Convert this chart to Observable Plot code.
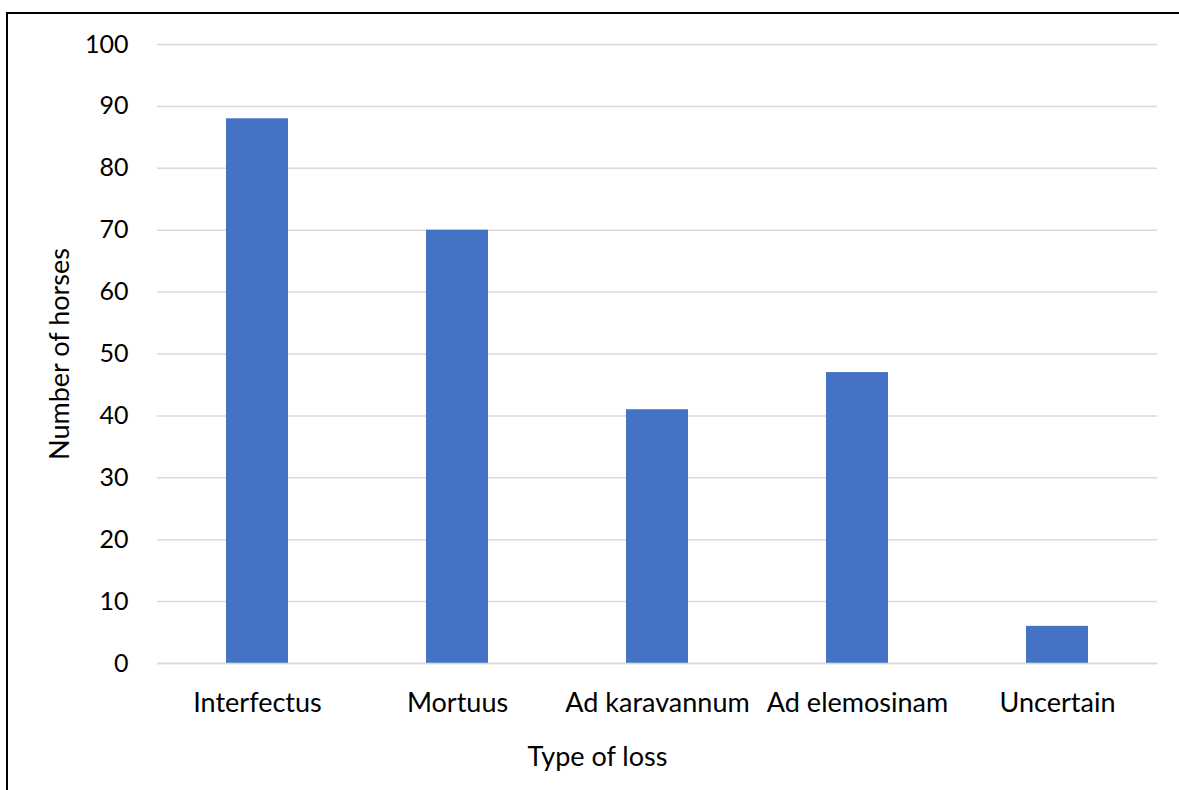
<!DOCTYPE html>
<html>
<head>
<meta charset="utf-8">
<script src="https://cdn.jsdelivr.net/npm/d3@7"></script>
<script src="https://cdn.jsdelivr.net/npm/@observablehq/plot@0.6"></script>
<style>
  html, body { margin: 0; padding: 0; background: #fff; overflow: hidden; }
  #wrap { position: relative; width: 1179px; height: 790px; }
  #frame { position: absolute; left: 6px; top: 12px; width: 1300px; height: 900px; border: 2px solid #000; box-sizing: border-box; }
  #chart { position: absolute; left: 0; top: 0; }
  svg { font-family: Lato, "Open Sans", sans-serif; }
</style>
</head>
<body>
<div id="wrap"><div id="frame"></div><div id="chart"></div></div>
<script>
const categories = ["Interfectus", "Mortuus", "Ad karavannum", "Ad elemosinam", "Uncertain"];
const values = [88, 70, 41, 47, 6];
const yTicks = [0, 10, 20, 30, 40, 50, 60, 70, 80, 90, 100];
const xTitle = "Type of loss";
const yTitle = "Number of horses";

const data = categories.map((c, i) => ({category: c, value: values[i]}));

const plot = Plot.plot({
  width: 1179,
  height: 790,
  marginLeft: 157,
  marginRight: 22,
  marginTop: 44,
  marginBottom: 127,
  style: {fontFamily: "Lato, 'Open Sans', sans-serif", fontSize: "26px", color: "#000", background: "transparent"},
  x: {domain: categories, paddingInner: 0.69, paddingOuter: 0.345, label: null},
  y: {domain: [0, 100], label: null},
  marks: [
    Plot.gridY(yTicks, {stroke: "#d9d9d9", strokeOpacity: 1, strokeWidth: 1.5}),
    Plot.barY(data, {x: "category", y: "value", fill: "#4472C4"}),
    Plot.ruleY([0], {stroke: "#d9d9d9", strokeWidth: 1.5}),
    Plot.axisY(yTicks, {tickSize: 0, tickPadding: 29, fontSize: 25, label: null}),
    Plot.axisX({tickSize: 0, tickPadding: 29, fontSize: 27, label: null}),
    Plot.text([xTitle], {frameAnchor: "bottom", dx: -60, dy: 102, fontSize: 27, text: d => d}),
    Plot.text([yTitle], {frameAnchor: "left", dx: -97, rotate: -90, textAnchor: "middle", fontSize: 27, text: d => d})
  ]
});
document.getElementById("chart").appendChild(plot);
</script>
</body>
</html>
